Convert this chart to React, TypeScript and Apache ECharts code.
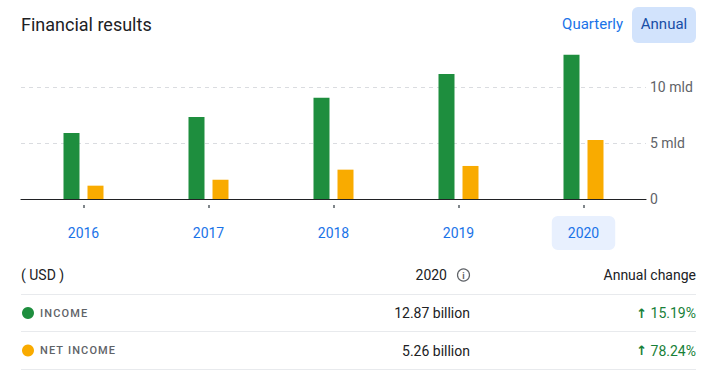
import React, { useEffect, useRef } from "react";
import * as echarts from "echarts";

const years = ["2016", "2017", "2018", "2019", "2020"];
const income = [5.89, 7.32, 9.04, 11.17, 12.87];
const netIncome = [1.19, 1.72, 2.62, 2.95, 5.26];
const gridValues = [5, 10];
const selectedYear = "2020";
const rowNames = ["INCOME", "NET INCOME"];
const rowValues = ["12.87 billion", "5.26 billion"];
const rowChanges = ["15.19%", "78.24%"];
const rowColors = ["#1e8e3e", "#f9ab00"];

const FONT = "Roboto, 'Noto Sans', sans-serif";

export default function App() {
  const ref = useRef<HTMLDivElement>(null);
  useEffect(() => {
    if (!ref.current) return;
    const chart = echarts.init(ref.current, null, { renderer: "svg" });
    const graphics: any[] = [
      {
        type: "text",
        left: 21,
        top: 15,
        style: { text: "Financial results", fontSize: 18, fill: "#202124", fontFamily: FONT },
      },
      {
        type: "text",
        x: 623,
        y: 24,
        style: {
          text: "Quarterly",
          fontSize: 15,
          fill: "#1a73e8",
          fontFamily: FONT,
          align: "right",
          verticalAlign: "middle",
        },
      },
      {
        type: "rect",
        shape: { x: 632, y: 7, width: 64, height: 36, r: 6 },
        style: { fill: "#d2e3fc" },
      },
      {
        type: "text",
        x: 664,
        y: 24,
        style: {
          text: "Annual",
          fontSize: 15,
          fill: "#174ea6",
          fontFamily: FONT,
          align: "center",
          verticalAlign: "middle",
        },
      },
      // table header
      {
        type: "text",
        x: 21,
        y: 275,
        style: { text: "( USD )", fontSize: 14, fill: "#202124", fontFamily: FONT, verticalAlign: "middle" },
      },
      {
        type: "text",
        x: 447,
        y: 275,
        style: {
          text: selectedYear,
          fontSize: 14,
          fill: "#202124",
          fontFamily: FONT,
          align: "right",
          verticalAlign: "middle",
        },
      },
      {
        type: "circle",
        shape: { cx: 463.5, cy: 275, r: 6 },
        style: { fill: "none", stroke: "#5f6368", lineWidth: 1.2 },
      },
      {
        type: "text",
        x: 463.5,
        y: 275.5,
        style: {
          text: "i",
          fontSize: 9,
          fontWeight: "bold",
          fill: "#5f6368",
          fontFamily: FONT,
          align: "center",
          verticalAlign: "middle",
        },
      },
      {
        type: "text",
        x: 696,
        y: 275,
        style: {
          text: "Annual change",
          fontSize: 14,
          fill: "#202124",
          fontFamily: FONT,
          align: "right",
          verticalAlign: "middle",
        },
      },
    ];
    const dividerYs = [294.5, 331.5, 369.5];
    dividerYs.forEach((y) =>
      graphics.push({
        type: "line",
        shape: { x1: 21, y1: y, x2: 696, y2: y },
        style: { stroke: "#e8eaed", lineWidth: 1 },
      })
    );
    rowNames.forEach((name, i) => {
      const cy = 313 + i * 37.5;
      graphics.push(
        {
          type: "circle",
          shape: { cx: 28, cy, r: 6 },
          style: { fill: rowColors[i] },
        },
        {
          type: "text",
          x: 40,
          y: cy,
          style: {
            text: name.split("").join("\u200a"),
            fontSize: 11,
            fontWeight: 500,
            fill: "#5f6368",
            fontFamily: FONT,
            verticalAlign: "middle",
          },
        },
        {
          type: "text",
          x: 470,
          y: cy,
          style: {
            text: rowValues[i],
            fontSize: 14,
            fill: "#202124",
            fontFamily: FONT,
            align: "right",
            verticalAlign: "middle",
          },
        },
        {
          type: "text",
          x: 696,
          y: cy,
          style: {
            text: `{a|\u2191} {v|${rowChanges[i]}}`,
            align: "right",
            verticalAlign: "middle",
            rich: {
              a: { fontSize: 13, fontWeight: "bold", fill: "#188038", fontFamily: "'DejaVu Sans', sans-serif" },
              v: { fontSize: 14, fill: "#188038", fontFamily: FONT },
            },
          },
        }
      );
    });

    chart.setOption({
      animation: false,
      grid: { left: 21, right: 65, top: 31, bottom: 172 },
      xAxis: [
        {
          type: "category",
          data: years,
          axisLine: { show: true, lineStyle: { color: "#202124", width: 1.2 } },
          axisTick: { show: false },
          axisLabel: {
            margin: 26,
            formatter: (v: string) => (v === selectedYear ? `{sel|${v}}` : `{n|${v}}`),
            rich: {
              n: {
                color: "#1a73e8",
                fontSize: 14,
                fontFamily: FONT,
                lineHeight: 16,
                padding: [10, 16],
              },
              sel: {
                color: "#1a73e8",
                fontSize: 14,
                fontFamily: FONT,
                lineHeight: 16,
                padding: [10, 16],
                backgroundColor: "#e8f0fe",
                borderRadius: 6,
              },
            },
          },
        },
        {
          type: "category",
          data: years,
          position: "bottom",
          offset: 6,
          axisLine: { show: false },
          axisTick: { show: true, alignWithLabel: true, length: 3, lineStyle: { color: "#80868b", width: 2 } },
          axisLabel: { show: false },
        },
      ],
      yAxis: {
        type: "value",
        position: "right",
        min: 0,
        max: 15,
        interval: 5,
        axisLine: { show: false },
        axisTick: { show: false },
        splitLine: { show: false },
        axisLabel: {
          showMaxLabel: false,
          margin: 4,
          color: "#5f6368",
          fontSize: 14,
          fontFamily: FONT,
          formatter: (v: number) => (v === 0 ? "0" : `${v} mld`),
        },
      },
      series: [
        {
          type: "bar",
          data: income,
          barWidth: 16,
          barGap: "50%",
          itemStyle: { color: "#1e8e3e" },
          z: 3,
        },
        {
          type: "bar",
          data: netIncome,
          barWidth: 16,
          barGap: "50%",
          itemStyle: { color: "#f9ab00" },
          z: 3,
        },
        {
          type: "line",
          data: [],
          z: 1,
          markLine: {
            z: 1,
            silent: true,
            symbol: "none",
            label: { show: false },
            lineStyle: { type: [4, 4], color: "#dadce0", width: 1 },
            data: gridValues.map((v) => ({ yAxis: v })),
          },
        },
      ],
      graphic: graphics,
    });
    return () => chart.dispose();
  }, []);
  return <div ref={ref} style={{ position: "absolute", left: 0, top: 0, width: 711, height: 371 }} />;
}
